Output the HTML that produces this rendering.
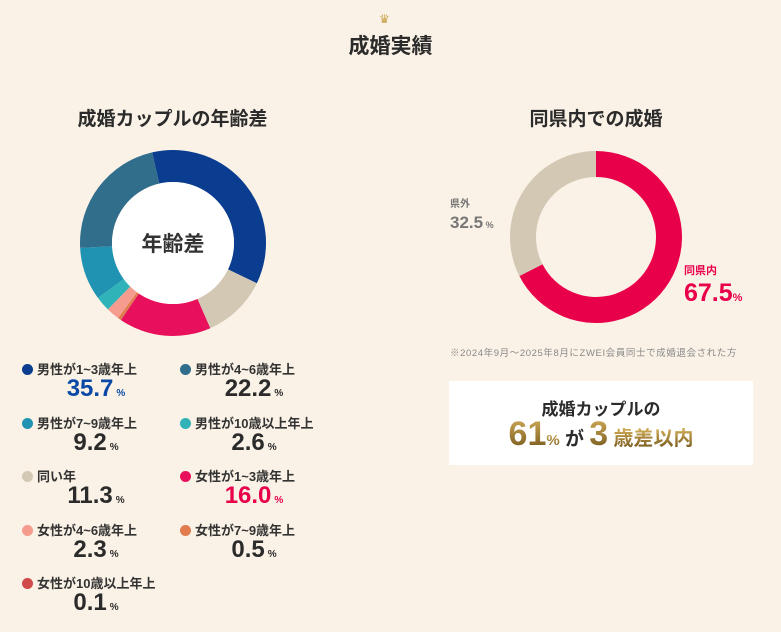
<!DOCTYPE html>
<html><head><meta charset="utf-8">
<style>
body{margin:0;width:781px;height:632px;background:#faf2e6;font-family:"Liberation Sans","Noto Sans CJK JP",sans-serif;color:#2b2b2b;position:relative;overflow:hidden}
.abs{position:absolute}
.t{font-weight:bold}
.lg{position:absolute;font-size:13px;font-weight:bold;color:#333;white-space:nowrap}
.dot{display:inline-block;width:11px;height:11px;border-radius:50%;margin-right:4px;vertical-align:-1px}
.val{position:absolute;width:140px;text-align:center;font-size:24px;font-weight:bold;color:#2b2b2b;line-height:28px}
.val small{font-size:10px;margin-left:3px}
.gold{background:linear-gradient(#d6b15a,#6e5218);-webkit-background-clip:text;background-clip:text;color:transparent}
</style></head><body>
<div class="abs" style="left:379px;top:12px;font-size:12px;color:#c9a24a">♛</div>
<div class="abs t" style="left:0;width:781px;top:30px;text-align:center;font-size:21px">成婚実績</div>
<div class="abs t" style="left:20px;width:305px;top:104px;text-align:center;font-size:19px">成婚カップルの年齢差</div>
<div class="abs t" style="left:446px;width:300px;top:104px;text-align:center;font-size:19px">同県内での成婚</div>
<svg class="abs" style="left:0;top:0" width="781" height="632">
<g id="d1"></g><g id="d2"></g>
<text x="173" y="251" text-anchor="middle" font-size="21" font-weight="bold" fill="#333">年齢差</text>
<text x="450" y="207" font-size="10" font-weight="bold" fill="#777">県外</text>
<text x="450" y="228" font-size="17" font-weight="bold" fill="#777">32.5<tspan font-size="9"> %</tspan></text>
<text x="684" y="274" font-size="11" font-weight="bold" fill="#e8004b">同県内</text>
<text x="684" y="301" font-size="25" font-weight="bold" fill="#e8004b">67.5<tspan font-size="11">%</tspan></text>
</svg>
<div class="abs" style="left:450px;top:345px;font-size:9.5px;letter-spacing:0.6px;color:#888;white-space:nowrap">※2024年9月～2025年8月にZWEI会員同士で成婚退会された方</div>
<div class="abs" style="left:449px;top:381px;width:304px;height:84px;background:#fff"></div>
<div class="abs t" style="left:449px;width:304px;top:395px;text-align:center;font-size:17px">成婚カップルの</div>
<div class="abs t" style="left:449px;width:304px;top:414px;text-align:center;font-size:19px;line-height:40px"><span class="gold" style="font-size:34px">61</span><span class="gold" style="font-size:15px">%</span> が <span class="gold" style="font-size:34px">3</span> <span class="gold" style="font-size:20px">歳差以内</span></div>
<div id="legend"></div>
<script>
const ageLabels=["男性が1~3歳年上","男性が4~6歳年上","男性が7~9歳年上","男性が10歳以上年上","同い年","女性が1~3歳年上","女性が4~6歳年上","女性が7~9歳年上","女性が10歳以上年上"];
const ageValues=[35.7,22.2,9.2,2.6,11.3,16.0,2.3,0.5,0.1];
const ageColors=["#0a3d8f","#316e8c","#2193b2","#30b3b8","#d3c8b4","#e8105c","#f59c8e","#e07b4d","#d04a4a"];
const ageOrder=[0,4,5,8,7,6,3,2,1];
const prefLabels=["同県内","県外"];
const prefValues=[67.5,32.5];
const prefColors=["#e8004b","#d3c8b4"];
const NS="http://www.w3.org/2000/svg";
function arc(cx,cy,r0,r1,a0,a1){const p=(r,a)=>[cx+r*Math.sin(a),cy-r*Math.cos(a)];const L=a1-a0>Math.PI?1:0;const A=p(r1,a0),B=p(r1,a1),C=p(r0,a1),D=p(r0,a0);return `M${A}A${r1},${r1} 0 ${L} 1 ${B}L${C}A${r0},${r0} 0 ${L} 0 ${D}Z`;}
function donut(g,idx,vals,cols,names,cx,cy,r0,r1,start){const tot=vals.reduce((a,b)=>a+b,0);let a=start;idx.forEach(i=>{const s=vals[i]/tot*2*Math.PI;const p=document.createElementNS(NS,"path");p.setAttribute("d",arc(cx,cy,r0,r1,a,a+s));p.setAttribute("fill",cols[i]);


g.appendChild(p);a+=s;});}
donut(document.getElementById("d1"),ageOrder,ageValues,ageColors,ageLabels,173,243,61,93,-13*Math.PI/180);
const c=document.createElementNS(NS,"circle");c.setAttribute("cx",173);c.setAttribute("cy",243);c.setAttribute("r",61);c.setAttribute("fill","#fff");document.getElementById("d1").appendChild(c);
donut(document.getElementById("d2"),[0,1],prefValues,prefColors,prefLabels,596,237,60,86,0);
const lg=document.getElementById("legend");
const colX=[22,180],rowY=[359,413,466,520,573];
ageLabels.forEach((l,i)=>{const x=colX[i%2],y=rowY[Math.floor(i/2)];
const d=document.createElement("div");d.className="lg";d.style.left=x+"px";d.style.top=y+"px";d.innerHTML=`<span class="dot" style="background:${ageColors[i]}"></span>${l}`;


lg.appendChild(d);
const v=document.createElement("div");v.className="val";v.style.left=(x+4)+"px";v.style.top=(y+16)+"px";
const col=i==0?"#0a4aa6":(i==5?"#e8004b":"#2b2b2b");v.style.color=col;
v.innerHTML=ageValues[i].toFixed(1)+"<small>%</small>";


lg.appendChild(v);});
</script>
</body></html>
